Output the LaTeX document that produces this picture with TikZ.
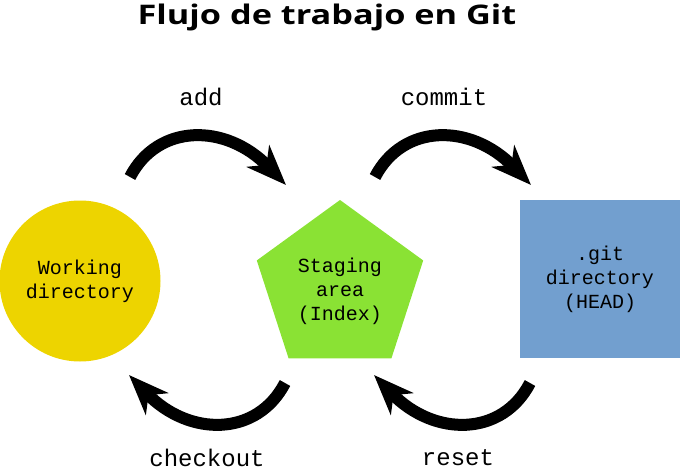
\documentclass[tikz,border=0pt]{standalone}
\usepackage{fontspec}
\newfontfamily\titlefont{Open Sans}
\newfontfamily\monofont{Liberation Mono}
\usetikzlibrary{arrows.meta,shapes.geometric}
\definecolor{wdyellow}{HTML}{EDD400}
\definecolor{stgreen}{HTML}{8AE234}
\definecolor{gitblue}{HTML}{729FCF}
\begin{document}
\begin{tikzpicture}[x=1pt,y=-1pt,
  flowarrow/.style={line width=12pt,black,-{Stealth[length=40pt,width=31pt,inset=12pt]}},
  nodetext/.style={font=\monofont\fontsize{20}{24}\selectfont,align=center,inner sep=0pt,text=black},
  steplabel/.style={font=\monofont\fontsize{24}{28}\selectfont,inner sep=0pt}]
\path[use as bounding box] (0,0) rectangle (680,471);
\node[font=\titlefont\bfseries\fontsize{27}{31}\selectfont,inner sep=0pt,xscale=1.27] (title) at (327,17) {Flujo de trabajo en Git};
% shapes
\node[circle,fill=wdyellow,minimum size=161pt,inner sep=0pt] (wd) at (80,281) {};
\node[regular polygon,regular polygon sides=5,fill=stgreen,minimum size=175pt,inner sep=0pt] (stage) at (340,287.5) {};
\node[rectangle,fill=gitblue,minimum width=160pt,minimum height=158pt,inner sep=0pt] (git) at (600,279) {};
% texts
\node[nodetext] (wdtext) at (80,281) {Working\\directory};
\node[nodetext] (stagetext) at (340,291) {Staging\\area\\(Index)};
\node[nodetext] (gittext) at (600,279) {.git\\directory\\(HEAD)};
% connector end points
\coordinate (addS) at (130,177);
\coordinate (addE) at (286,185);
\coordinate (comS) at (375,177);
\coordinate (comE) at (531,185);
\coordinate (chkS) at (285,383);
\coordinate (chkE) at (129,375);
\coordinate (resS) at (530,383);
\coordinate (resE) at (374,375);
\draw[flowarrow] (addS) .. controls +(28,-54) and +(-60,-62) .. (addE);
\draw[flowarrow] (comS) .. controls +(28,-54) and +(-60,-62) .. (comE);
\draw[flowarrow] (chkS) .. controls +(-28,54) and +(60,62) .. (chkE);
\draw[flowarrow] (resS) .. controls +(-28,54) and +(60,62) .. (resE);
% labels
\node[steplabel] (addlbl) at (201,97) {add};
\node[steplabel] (comlbl) at (444,97) {commit};
\node[steplabel] (chklbl) at (207,458) {checkout};
\node[steplabel] (reslbl) at (458,458) {reset};
\end{tikzpicture}
\end{document}
